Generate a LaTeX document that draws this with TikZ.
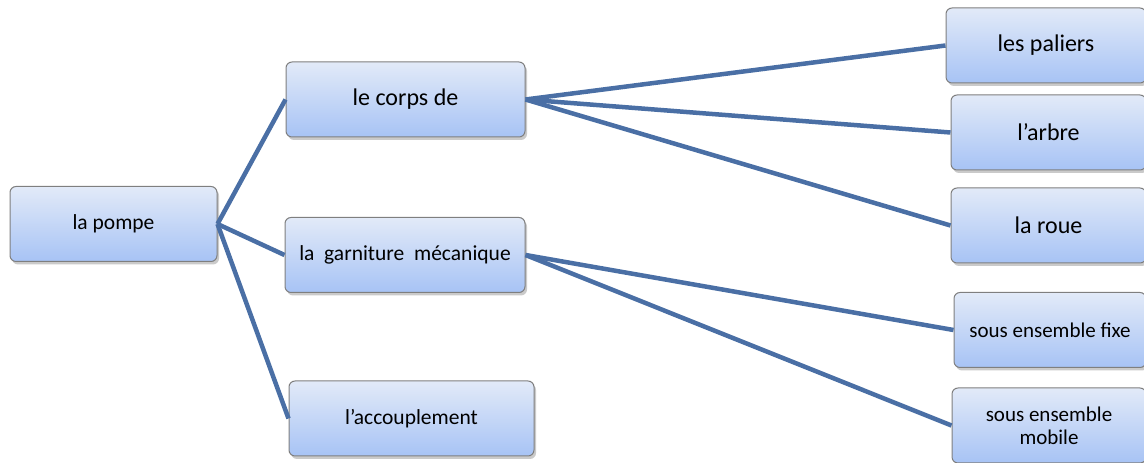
\documentclass[tikz,border=0pt]{standalone}
\usepackage{fontspec}
\setmainfont{Carlito}
\usetikzlibrary{shadows}
\definecolor{pmpLine}{HTML}{4A6FA5}
\definecolor{pmpTop}{HTML}{E2EAF8}
\definecolor{pmpBot}{HTML}{A7C3F5}
\definecolor{pmpEdge}{HTML}{7F7F7F}
\tikzset{
  pmp box/.style={draw=pmpEdge, line width=1pt, rounded corners=6pt,
    top color=pmpTop, bottom color=pmpBot, align=center,
    minimum height=75, inner sep=2pt, text=black,
    drop shadow={shadow xshift=2pt, shadow yshift=-3pt, opacity=0.35, fill=black!60}},
  pmp link/.style={pmpLine, line width=4.5pt},
}
\newcommand{\pmpBig}{\fontsize{24}{27}\selectfont}
\newcommand{\pmpMid}{\fontsize{21.5}{24}\selectfont}
\newcommand{\pmpSmall}{\fontsize{21}{23}\selectfont}
\newcommand{\pmpQ}{{\char39}}
\begin{document}
\begin{tikzpicture}[x=1pt, y=1pt]
  \useasboundingbox (0,0) rectangle (1144,463);

  % --- level 0 ---
  \node[pmp box, minimum width=207, font=\pmpMid] (pompe) at (113.5,239) {la pompe};

  % --- level 1 ---
  \node[pmp box, minimum width=239, font=\pmpBig] (corps) at (405.5,363.5) {le corps de};
  \node[pmp box, minimum width=240, font=\pmpMid] (garniture) at (405,208)
    {la~~garniture~~mécanique};
  \node[pmp box, minimum width=245, font=\pmpMid] (accouplement) at (411.5,44.5)
    {l\pmpQ accouplement};

  % --- level 2 (cut at the right edge) ---
  \node[pmp box, minimum width=200, font=\pmpBig] (paliers) at (1046,417.5) {les paliers};
  \node[pmp box, minimum width=195, font=\pmpBig] (arbre) at (1048.5,330.5) {l\pmpQ arbre};
  \node[pmp box, minimum width=195, font=\pmpBig] (roue) at (1048.5,237.5) {la roue};
  \node[pmp box, minimum width=192, font=\pmpSmall] (fixe) at (1050,133)
    {sous ensemble fixe};
  \node[pmp box, minimum width=194, font=\pmpSmall] (mobile) at (1049,37.5)
    {sous ensemble\\mobile};

  % connectors
  \draw[pmp link] (pompe.east) -- (corps.west);
  \draw[pmp link] (pompe.east) -- (garniture.west);
  \draw[pmp link] (pompe.east) -- (accouplement.west);
  \draw[pmp link] (corps.east) -- (paliers.west);
  \draw[pmp link] (corps.east) -- (arbre.west);
  \draw[pmp link] (corps.east) -- (roue.west);
  \draw[pmp link] (garniture.east) -- (fixe.west);
  \draw[pmp link] (garniture.east) -- (mobile.west);
\end{tikzpicture}
\end{document}
